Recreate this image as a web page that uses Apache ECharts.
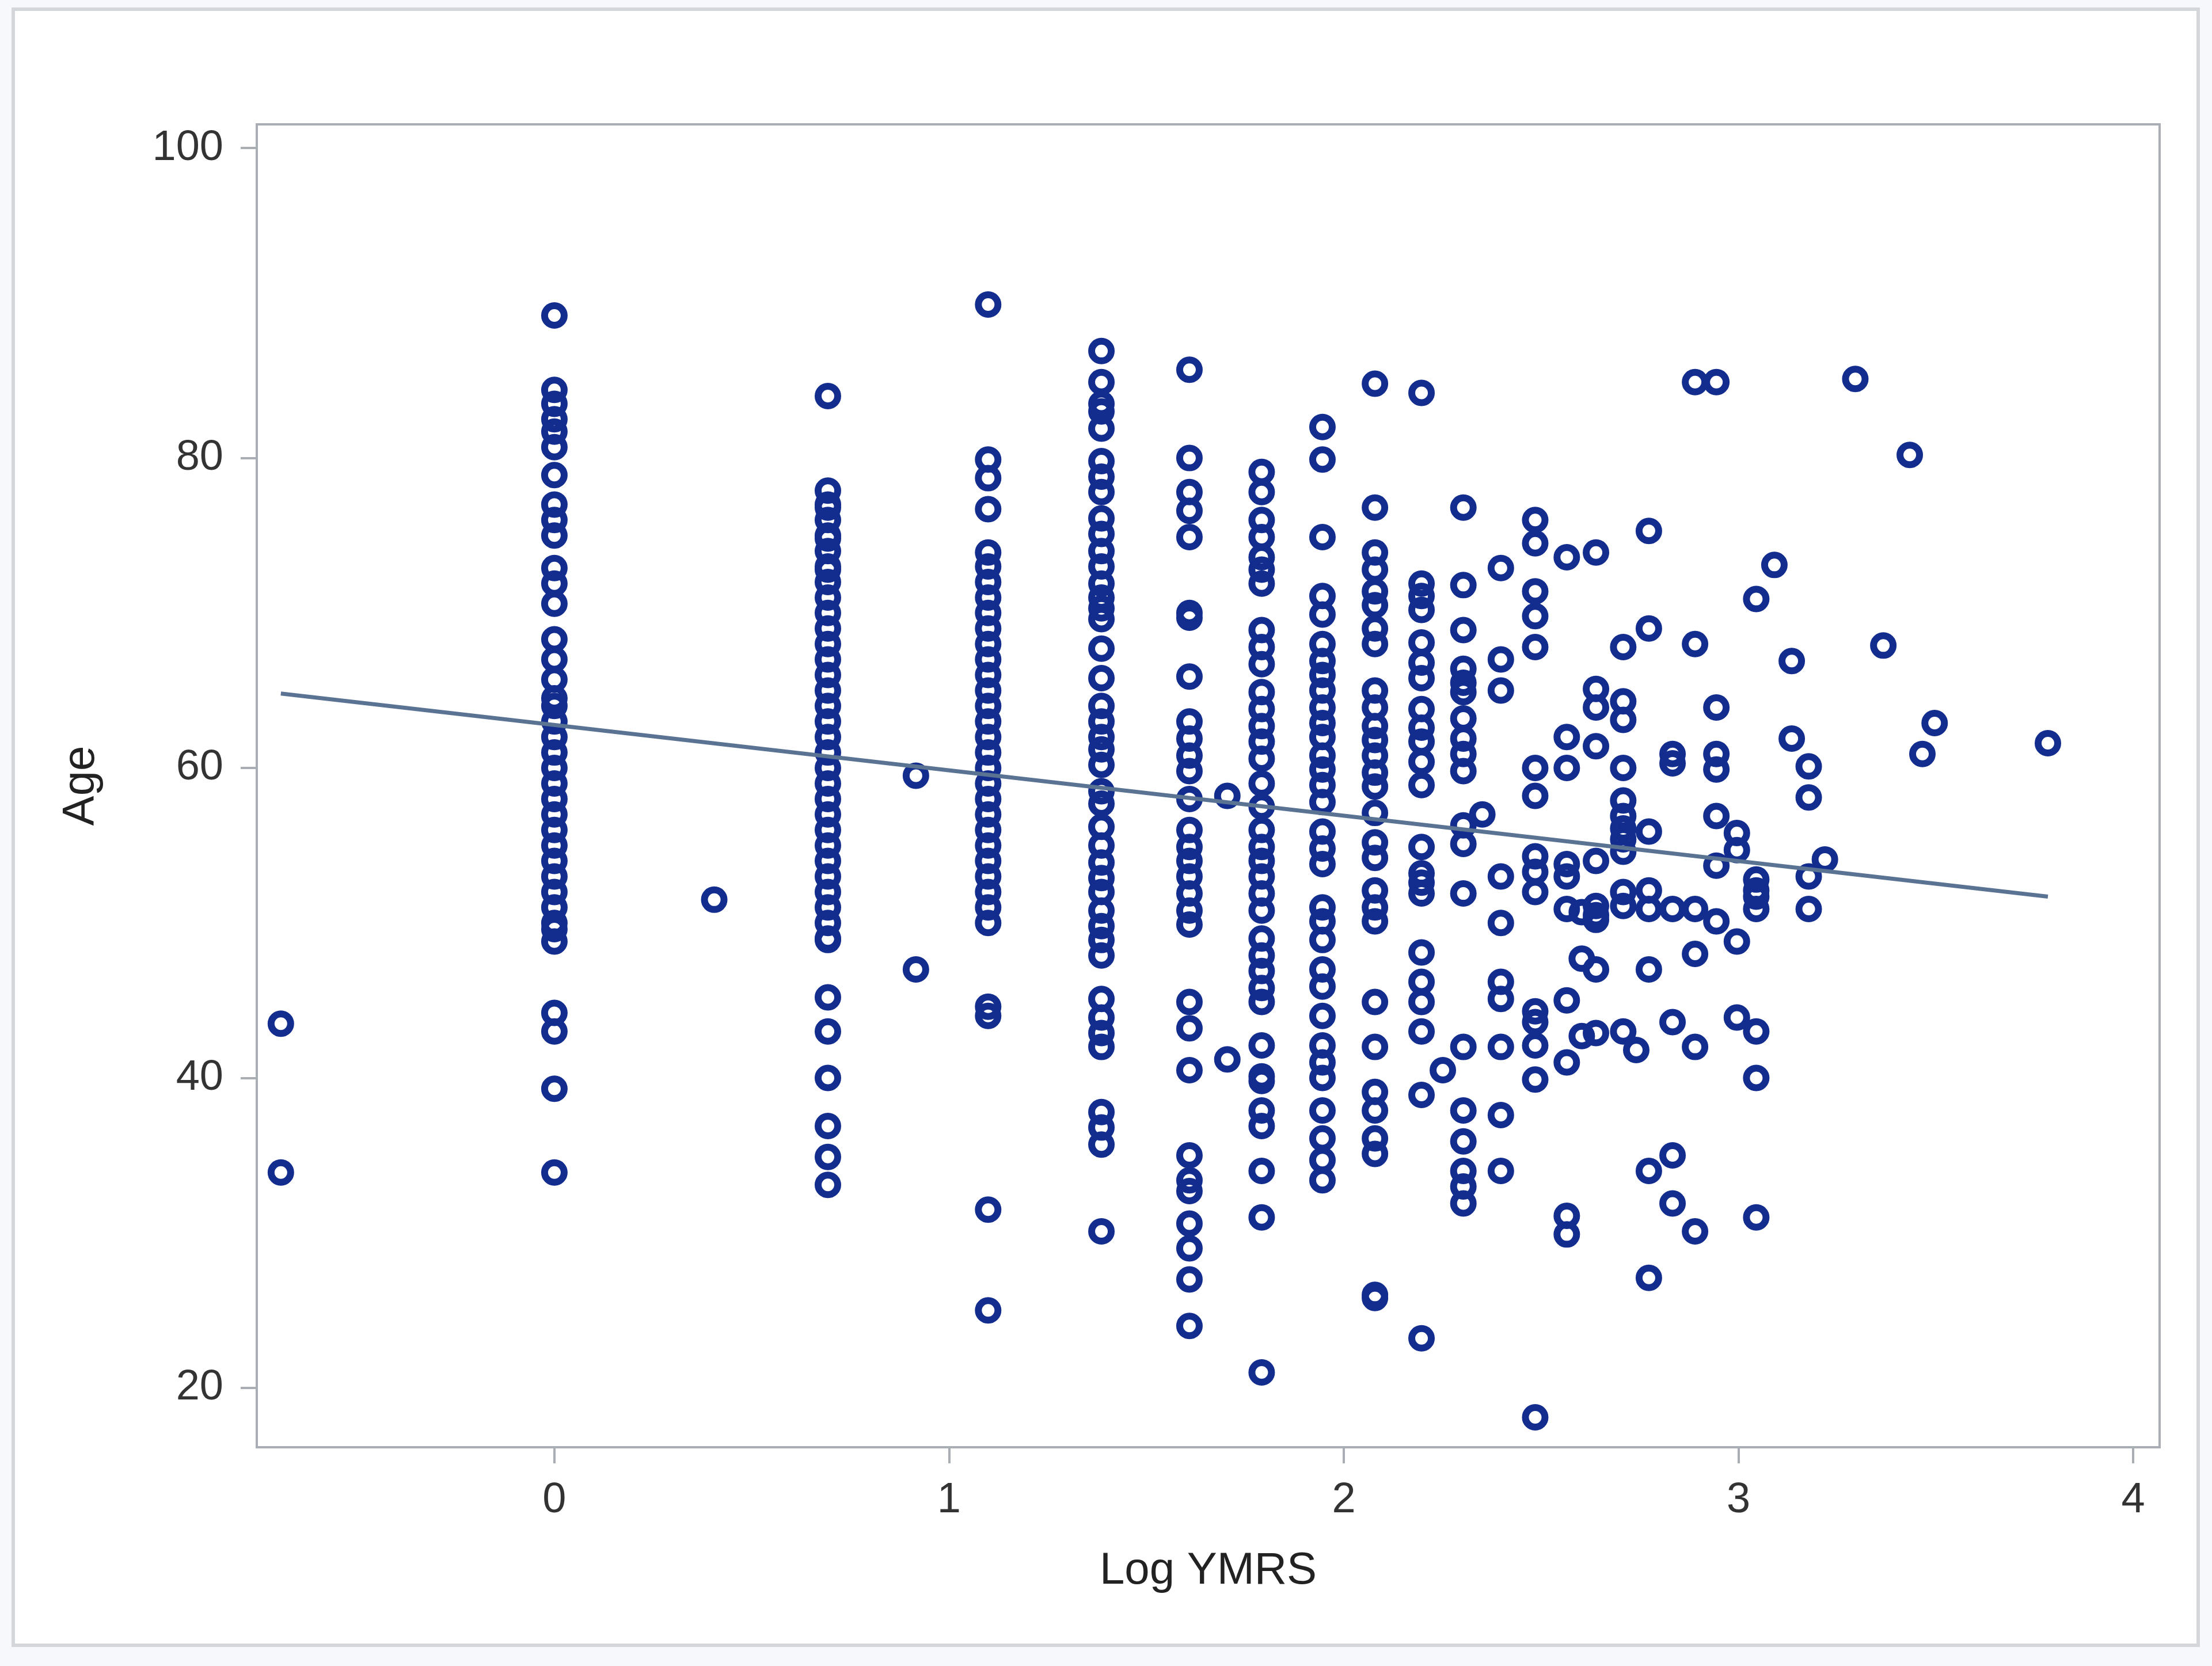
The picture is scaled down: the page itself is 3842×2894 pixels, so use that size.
<!DOCTYPE html>
<html><head><meta charset="utf-8">
<script src="https://cdn.jsdelivr.net/npm/echarts@6/dist/echarts.min.js"></script>
<style>html,body{margin:0;padding:0;background:#f7f8fb}#c{width:3842px;height:2894px}</style>
</head><body><div id="c"></div><script>
// Log YMRS levels (x) and the ages observed at each level (y)
const logYMRS = [-0.693, 0, 0.405, 0.693, 0.916, 1.099, 1.386, 1.609, 1.705, 1.792, 1.946, 2.079, 2.197, 2.251, 2.303, 2.351, 2.398, 2.485, 2.565, 2.603, 2.639, 2.708, 2.741, 2.773, 2.833, 2.890, 2.944, 2.996, 3.045, 3.091, 3.135, 3.178, 3.219, 3.296, 3.367, 3.434, 3.466, 3.497, 3.784];
const agesByLevel = [
  [43.5, 33.9],
  [89.2, 84.4, 83.5, 82.5, 81.7, 80.7, 78.9, 77.0, 76.0, 75.0, 72.9, 71.9, 70.6, 68.3, 67.0, 65.7, 64.5, 64, 63, 62, 61, 60, 59, 58, 57, 56, 55, 54, 53, 52, 51, 50, 49.6, 48.8, 44.2, 43.0, 39.3, 33.9],
  [51.5],
  [84.0, 77.9, 77, 76.8, 76, 75, 74.8, 74, 73, 72.8, 72, 71, 70, 69, 68, 67, 66, 65, 64, 63, 62, 61, 60, 59, 58, 57, 56, 55, 54, 53, 52, 51, 50, 49, 48.9, 45.2, 43.0, 40.0, 36.9, 34.9, 33.1],
  [59.5, 47.0],
  [89.9, 79.9, 78.7, 76.7, 73.9, 73, 72, 71, 70, 69, 68, 67, 66, 65, 64, 63, 62, 61, 60, 59, 58, 57, 56, 55, 54, 53, 52, 51, 50, 44.6, 44.0, 31.5, 25.0],
  [86.9, 84.9, 83.5, 83.0, 81.9, 79.8, 78.8, 77.8, 76.1, 75.1, 74.0, 73.0, 71.9, 71, 70.3, 69.6, 67.7, 65.8, 64, 63, 62, 61.2, 60.2, 58.5, 57.7, 56.2, 55.0, 53.9, 52.9, 52.0, 50.8, 49.8, 48.9, 47.9, 45.1, 43.9, 42.9, 42.0, 37.8, 36.8, 35.7, 30.1],
  [85.7, 80.0, 77.8, 76.6, 74.9, 70.0, 69.7, 65.9, 63.0, 61.9, 60.8, 59.8, 58.0, 56.0, 54.9, 54.0, 53.0, 51.9, 50.8, 49.9, 44.9, 43.2, 40.5, 35.0, 33.4, 32.7, 30.6, 29.0, 27.0, 24.0],
  [58.2, 41.2],
  [79.1, 77.8, 76.0, 74.9, 73.6, 72.8, 71.9, 68.9, 67.8, 66.7, 64.9, 63.8, 62.7, 61.7, 60.6, 59.0, 57.5, 56.0, 54.9, 54.0, 53.0, 51.9, 50.8, 49.0, 47.9, 46.9, 45.8, 44.9, 42.1, 40.1, 39.8, 37.9, 36.9, 34.0, 31.0, 21.0],
  [82.0, 79.9, 74.9, 71.1, 69.9, 68.0, 66.9, 66.0, 65.0, 63.9, 62.9, 62.0, 60.8, 59.9, 58.9, 57.8, 55.9, 54.8, 53.8, 51.0, 50.1, 48.9, 47.0, 45.9, 44.0, 42.1, 41.0, 40.0, 37.9, 36.1, 34.7, 33.4],
  [84.8, 76.8, 73.9, 72.8, 71.4, 70.5, 69.0, 68.0, 65.0, 63.9, 62.7, 61.8, 60.8, 59.7, 58.8, 57.1, 55.2, 54.2, 52.1, 51.0, 50.1, 44.9, 42.0, 39.1, 37.9, 36.1, 35.1, 26.0, 25.8],
  [84.2, 71.9, 71.1, 70.2, 68.1, 66.8, 65.8, 63.8, 62.6, 61.7, 60.4, 58.9, 54.9, 53.2, 52.6, 51.9, 48.1, 46.2, 44.9, 43.0, 38.9, 23.2],
  [40.5],
  [76.8, 71.8, 68.9, 66.4, 65.5, 64.9, 63.2, 61.9, 60.9, 59.8, 56.3, 55.1, 51.9, 42.0, 37.9, 35.9, 34.0, 33.0, 31.9],
  [57.0],
  [72.9, 67.0, 65.0, 53.0, 50.0, 46.2, 45.1, 42.0, 37.6, 34.0],
  [76.0, 74.5, 71.4, 69.8, 67.8, 60.0, 58.2, 54.3, 53.3, 52.0, 44.3, 43.6, 42.1, 39.9, 18.1],
  [73.6, 62.0, 60.0, 53.8, 53.0, 50.9, 45.0, 41.0, 31.1, 29.9],
  [50.7, 47.7, 42.7],
  [73.9, 65.1, 63.9, 61.4, 54.0, 51.1, 50.5, 50.2, 47.0, 42.9],
  [67.8, 64.3, 63.1, 60.0, 57.9, 56.9, 56.1, 55.4, 54.6, 52.0, 51.1, 43.0],
  [41.8],
  [75.3, 69.0, 55.9, 52.1, 50.9, 47.0, 34.0, 27.1],
  [60.9, 60.3, 50.9, 43.6, 35.0, 31.9],
  [84.9, 68.0, 50.9, 48.0, 42.0, 30.1],
  [84.9, 63.9, 60.9, 59.9, 56.9, 53.7, 50.1],
  [55.8, 54.7, 48.8, 43.9],
  [70.9, 52.8, 52.1, 51.7, 50.9, 43.0, 40.0, 31.0],
  [73.1],
  [66.9, 61.9],
  [60.1, 58.1, 53.0, 50.9],
  [54.1],
  [85.1],
  [67.9],
  [80.2],
  [60.9],
  [62.9],
  [61.6]
];
// Fitted regression line end points
const fitX = [-0.693, 3.784];
const fitY = [64.8, 51.7];
// Tick labels
const xTicks = [0, 1, 2, 3, 4];
const yTicks = [20, 40, 60, 80, 100];

const points = [];
logYMRS.forEach(function (x, i) { agesByLevel[i].forEach(function (a) { points.push([x, a]); }); });
const fitLine = fitX.map(function (x, i) { return [x, fitY[i]]; });

const chart = echarts.init(document.getElementById('c'), null, {renderer: 'canvas'});
const frameColor = '#a9aeb4';
const font = 'Liberation Sans, Arial, sans-serif';
chart.setOption({
  animation: false,
  backgroundColor: 'transparent',
  graphic: [{
    type: 'rect', z: -10, silent: true,
    shape: {x: 23, y: 16, width: 3795, height: 2842},
    style: {fill: '#ffffff', stroke: '#d3d6db', lineWidth: 6}
  }],
  grid: {left: 446, top: 216, width: 3305, height: 2298, show: true, borderColor: frameColor, borderWidth: 4, backgroundColor: 'transparent'},
  xAxis: {
    type: 'value', min: -0.754, max: 4.067,
    name: 'Log YMRS', nameLocation: 'middle', nameGap: 176,
    nameTextStyle: {fontSize: 78, color: '#222', fontFamily: font},
    axisLine: {show: false, onZero: false},
    axisTick: {show: true, length: 28, customValues: xTicks, lineStyle: {color: frameColor, width: 4}},
    axisLabel: {customValues: xTicks, fontSize: 74, color: '#333', fontFamily: font, margin: 56},
    splitLine: {show: false}
  },
  yAxis: {
    type: 'value', min: 16.17, max: 101.53,
    name: 'Age', nameLocation: 'middle', nameGap: 266, nameRotate: 90,
    nameTextStyle: {fontSize: 78, color: '#222', fontFamily: font},
    axisLine: {show: false, onZero: false},
    axisTick: {show: true, length: 28, customValues: yTicks, lineStyle: {color: frameColor, width: 4}},
    axisLabel: {customValues: yTicks, fontSize: 74, color: '#333', fontFamily: font, margin: 58},
    splitLine: {show: false}
  },
  series: [
    {
      type: 'scatter', data: points, symbol: 'circle', symbolSize: 34, silent: true,
      itemStyle: {color: 'rgba(0,0,0,0)', borderColor: '#132d8e', borderWidth: 12, opacity: 1}
    },
    {
      type: 'line', data: fitLine, showSymbol: false, silent: true, z: 3,
      lineStyle: {color: '#5a7393', width: 7}
    }
  ]
});
</script></body></html>
